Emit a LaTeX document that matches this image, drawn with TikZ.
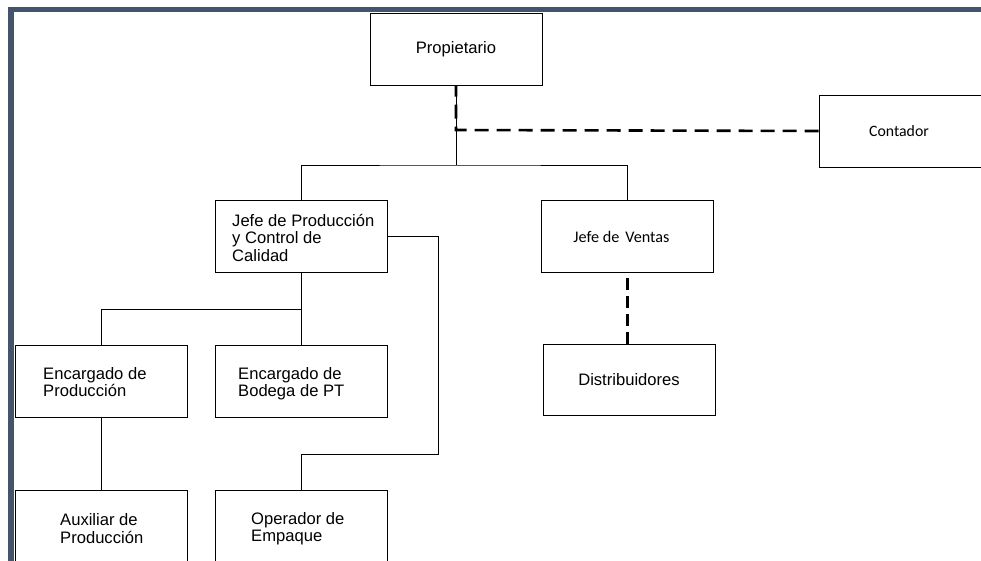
\documentclass[tikz,border=0pt]{standalone}
\usepackage{fontspec}
\setmainfont{Liberation Sans}
\newfontfamily\calibfont{Carlito}
\definecolor{bordc}{HTML}{44546A}
\begin{document}
\begin{tikzpicture}[x=1pt,y=-1pt,
  box/.style={draw, line width=1pt, minimum width=172pt, minimum height=72pt, inner sep=0pt},
  txt/.style={font=\fontsize{16.6}{17.5}\selectfont, align=left, inner sep=0pt},
  ctxt/.style={font=\calibfont\fontsize{15.8}{18}\selectfont, inner sep=0pt},
  link/.style={line width=1pt},
  dlink/.style={line width=2.6pt, dash pattern=on 14pt off 8pt},
  dlinkv/.style={line width=2.6pt, dash pattern=on 12pt off 6pt}]
\useasboundingbox (0,0) rectangle (981,560);
\clip (0,0) rectangle (981,560);
\fill[white] (0,0) rectangle (981,560);
% page border
\fill[bordc] (8,7) rectangle (990,12);
\fill[bordc] (8,7) rectangle (14,570);
% boxes
\node[box, txt] (prop) at (456,49) {Propietario};
\node[box] (cont) at (905,131) {};
\node[box] (jp) at (301,236.5) {};
\node[box] (jv) at (627.5,236.5) {};
\node[box, minimum height=71pt, txt] (dist) at (629,379.5) {Distribuidores};
\node[box] (ep) at (101,381) {};
\node[box] (eb) at (301,381) {};
\node[box] (aux) at (101,526) {};
\node[box] (op) at (301,526) {};
% texts
\node[ctxt] (contt) at (899,131) {Contador};
\node[ctxt, font=\calibfont\fontsize{16.2}{18}\selectfont] (jvt) at (621.5,237) {Jefe de\hspace{6pt}Ventas};
\node[txt, anchor=west] (jpt) at (232,237.5) {Jefe de Producción\\y Control de\\Calidad};
\node[txt, anchor=west] (ept) at (43,382) {Encargado de\\Producción};
\node[txt, anchor=west] (ebt) at (238,383.5) {Encargado de\\Bodega de PT};
\node[txt, anchor=west] (auxt) at (60,528.5) {Auxiliar de\\Producción};
\node[txt, anchor=west] (opt) at (251,528.5) {Operador de\\Empaque};
% connectors
\coordinate (b1) at (456,165);
\coordinate (c1) at (456,130);
\coordinate (b2) at (301,309);
\coordinate (r1) at (438,454);
\draw[link] (prop.south) -- (b1);
\draw[link] (jp.north) |- (b1) -| (jv.north);
\draw[dlink] (cont.west) -- (c1) -- (prop.south);
\draw[link] (jp.south) -- (eb.north);
\draw[link] (b2) -| (ep.north);
\draw[link] (ep.south) -- (aux.north);
\draw[link] (jp.east) -| (r1) -| (op.north);
\draw[dlinkv] (jv.south |- dist.north) -- (jv.south);
\end{tikzpicture}
\end{document}
